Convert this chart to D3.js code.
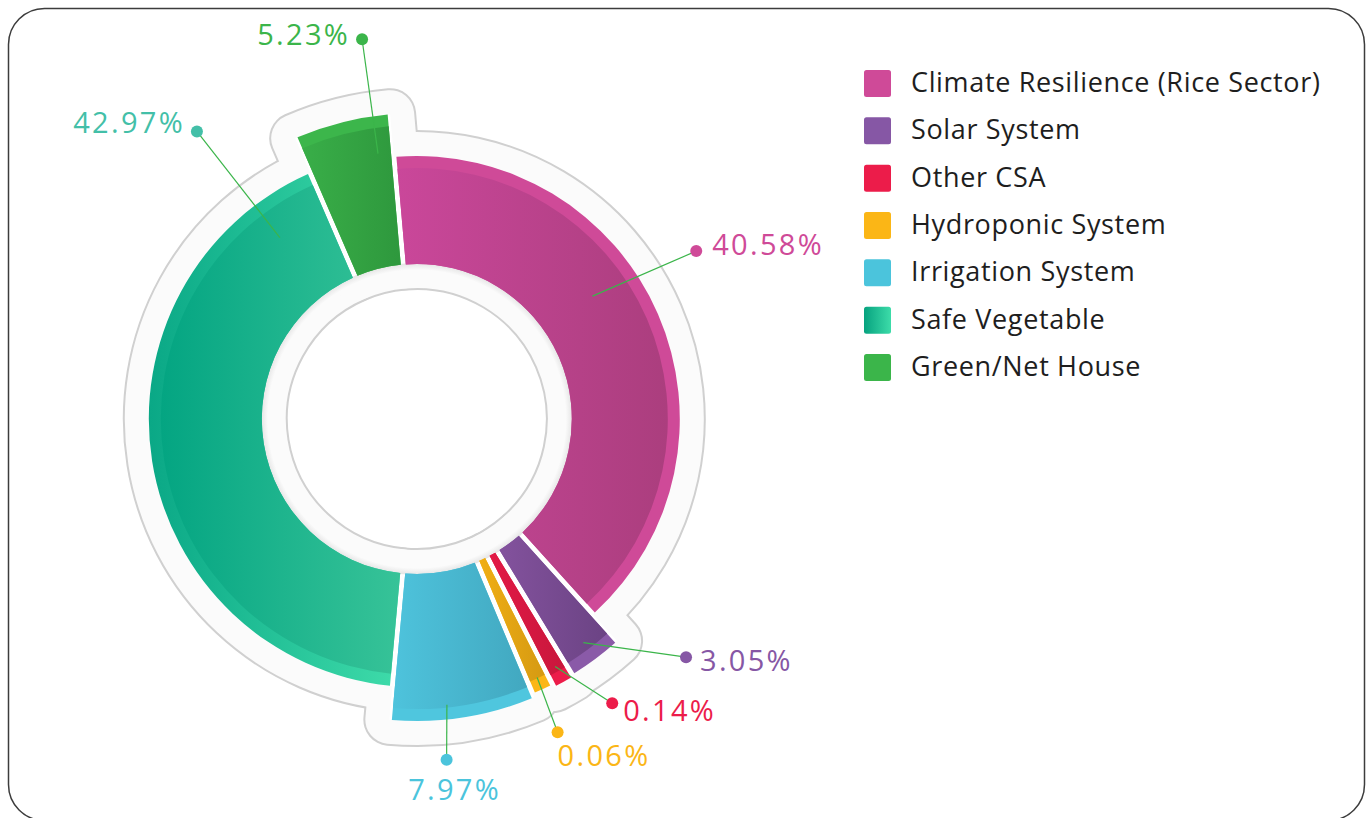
<!DOCTYPE html>
<html>
<head>
<meta charset="utf-8">
<script src="https://cdn.jsdelivr.net/npm/d3@7/dist/d3.min.js"></script>
<style>
  html, body { margin: 0; padding: 0; background: #ffffff; }
  svg { display: block; }
</style>
</head>
<body>
<svg id="chart" width="1372" height="818"></svg>
<script>
// ---- data ----
const categories = [
  "Climate Resilience (Rice Sector)",
  "Solar System",
  "Other CSA",
  "Hydroponic System",
  "Irrigation System",
  "Safe Vegetable",
  "Green/Net House"
];
const shares = [40.58, 3.05, 0.14, 0.06, 7.97, 42.97, 5.23];

// ---- style ----
const baseColors = ["#cf4a98", "#8657a5", "#ec1c4a", "#fbb616", "#4bc4dc", "#1fc095", "#3bb54a"];
const bodyFrom   = ["#ca479a", "#83529d", "#e21a46", "#f0ae14", "#4ec3dc", "#04a582", "#39ae48"];
const bodyTo     = ["#ab3e7e", "#6b4384", "#c8173c", "#d59a13", "#42a8c0", "#37c398", "#2e983d"];
const stripFrom  = ["#cf4a98", "#8a5aa8", "#ec1c4a", "#fbb616", "#4fc6de", "#0aa886", "#3cb64b"];
const stripTo    = ["#cf4a98", "#8a5aa8", "#ec1c4a", "#fbb616", "#4fc6de", "#3fdcaa", "#3cb64b"];
// outer radius of every slice (px)
const sliceRadius = [263, 299, 301, 298, 302, 268, 306];

// callout geometry: anchor inside the slice (fraction of sweep / of depth),
// dot in polar coordinates, text offset from the dot
const callouts = [
  { frac: 0.42, depth: 0.55, dotDeg: 59,    dotR: 326,   anchor: "start",  dx: 16,  dy: 4  },
  { frac: 0.50, depth: 0.86, dotDeg: 131.5, dotR: 359.5, anchor: "start",  dx: 14,  dy: 14 },
  { frac: 0.50, depth: 0.88, dotDeg: 145.5, dotR: 345,   anchor: "start",  dx: 11,  dy: 18 },
  { frac: 0.50, depth: 0.91, dotDeg: 155.8, dotR: 343.5, anchor: "start",  dx: 0,   dy: 34 },
  { frac: 0.60, depth: 0.90, dotDeg: 175,   dotR: 342,   anchor: "middle", dx: 8,   dy: 40 },
  { frac: 0.91, depth: 0.64, dotDeg: 322.6, dotR: 362,   anchor: "end",    dx: -12, dy: 2  },
  { frac: 0.82, depth: 0.75, dotDeg: 351.8, dotR: 383.7, anchor: "end",    dx: -12, dy: 6  }
];

const W = 1372, H = 818;
const cx = 416.8, cy = 419;
const innerR = 155;
const halo = 24;          // width of the pale frame around the ring
const stripW = 12;        // lighter band on the outer rim of a slice
const minShare = 1.2;     // smallest share given its own visible wedge
const rad = d => d * Math.PI / 180;

const svg = d3.select("#chart");
const defs = svg.append("defs");

// outer frame
svg.append("rect")
  .attr("x", 8.5).attr("y", 8.5)
  .attr("width", 1356).attr("height", 812)
  .attr("rx", 36).attr("ry", 36)
  .attr("fill", "#ffffff")
  .attr("stroke", "#3c3c3c")
  .attr("stroke-width", 1.5);

const items = categories.map((name, i) => ({ name, value: shares[i], index: i }));

const pie = d3.pie()
  .sort(null)
  .value(d => Math.max(d.value, minShare))
  .startAngle(rad(-5))
  .endAngle(rad(355));
const arcs = pie(items);

// gradients
arcs.forEach((a, i) => {
  const gb = defs.append("linearGradient").attr("id", "body" + i)
    .attr("x1", 0).attr("y1", 0).attr("x2", 1).attr("y2", 0);
  gb.append("stop").attr("offset", 0).attr("stop-color", bodyFrom[i]);
  gb.append("stop").attr("offset", 1).attr("stop-color", bodyTo[i]);
  const gs = defs.append("linearGradient").attr("id", "strip" + i)
    .attr("x1", 0).attr("y1", 0).attr("x2", 1).attr("y2", 0);
  gs.append("stop").attr("offset", 0).attr("stop-color", stripFrom[i]);
  gs.append("stop").attr("offset", 1).attr("stop-color", stripTo[i]);
});
const legendGrad = defs.append("linearGradient").attr("id", "legendSafe")
  .attr("x1", 0).attr("y1", 0).attr("x2", 1).attr("y2", 0);
legendGrad.append("stop").attr("offset", 0).attr("stop-color", "#06a27f");
legendGrad.append("stop").attr("offset", 1).attr("stop-color", "#3ddca9");

const shade = defs.append("radialGradient").attr("id", "innerShade")
  .attr("gradientUnits", "userSpaceOnUse")
  .attr("cx", 0).attr("cy", 0).attr("r", innerR + 1);
shade.append("stop").attr("offset", (innerR - 6) / (innerR + 1)).attr("stop-color", "#fbfbfb");
shade.append("stop").attr("offset", 1).attr("stop-color", "#e4e4e4");

const g = svg.append("g").attr("transform", `translate(${cx},${cy})`);

// pale frame: every wedge stroked wide with round joins gives the offset outline
const wedge = d3.arc()
  .innerRadius(innerR)
  .outerRadius(d => sliceRadius[d.index]);

g.append("g").selectAll("path").data(arcs).join("path")
  .attr("d", wedge)
  .attr("fill", "#d0d0d0")
  .attr("stroke", "#d0d0d0")
  .attr("stroke-width", 2 * halo + 4)
  .attr("stroke-linejoin", "round");
g.append("g").selectAll("path").data(arcs).join("path")
  .attr("d", wedge)
  .attr("fill", "#fbfbfb")
  .attr("stroke", "#fbfbfb")
  .attr("stroke-width", 2 * halo)
  .attr("stroke-linejoin", "round");

// white bed under the wedges so the gaps read as white
g.append("g").selectAll("path").data(arcs).join("path")
  .attr("d", wedge)
  .attr("fill", "#ffffff");

// soft shadow along the inner edge
g.append("path")
  .attr("d", d3.arc().innerRadius(innerR - 6).outerRadius(innerR + 1).startAngle(0).endAngle(2 * Math.PI)())
  .attr("fill", "url(#innerShade)");

// slices
const padded = d3.arc()
  .innerRadius(innerR)
  .outerRadius(d => sliceRadius[d.index])
  .padRadius(100)
  .padAngle(0.05);
const paddedBody = d3.arc()
  .innerRadius(innerR)
  .outerRadius(d => sliceRadius[d.index] - stripW)
  .padRadius(100)
  .padAngle(0.05);

const slices = g.append("g").selectAll("g").data(arcs).join("g");
slices.append("path")
  .attr("d", padded)
  .attr("fill", d => `url(#strip${d.index})`);
slices.append("path")
  .attr("d", paddedBody)
  .attr("fill", d => `url(#body${d.index})`);

// callouts
const polar = (deg, r) => [r * Math.sin(rad(deg)), -r * Math.cos(rad(deg))];
const fmt = d3.format(".2f");
const labelLayer = g.append("g");
arcs.forEach((a, i) => {
  const c = callouts[i];
  const ang = a.startAngle + c.frac * (a.endAngle - a.startAngle);
  const r = innerR + c.depth * (sliceRadius[i] - innerR);
  const p0 = [r * Math.sin(ang), -r * Math.cos(ang)];
  const p1 = polar(c.dotDeg, c.dotR);
  labelLayer.append("line")
    .attr("x1", p0[0]).attr("y1", p0[1])
    .attr("x2", p1[0]).attr("y2", p1[1])
    .attr("stroke", "#3bb54a")
    .attr("stroke-width", 1.2);
  labelLayer.append("circle")
    .attr("cx", p1[0]).attr("cy", p1[1]).attr("r", 6)
    .attr("fill", i === 5 ? "#43bfa8" : baseColors[i]);
  labelLayer.append("text")
    .attr("x", p1[0] + c.dx).attr("y", p1[1] + c.dy)
    .attr("text-anchor", c.anchor)
    .attr("font-family", "'Open Sans', 'Noto Sans', sans-serif")
    .attr("font-size", 29)
    .attr("letter-spacing", 2.3)
    .attr("fill", i === 5 ? "#43bfa8" : baseColors[i])
    .text(fmt(a.data.value) + "%");
});

// legend
const legend = svg.append("g").attr("transform", "translate(864,70)");
const rows = legend.selectAll("g").data(categories).join("g")
  .attr("transform", (d, i) => `translate(0,${i * 47.33})`);
rows.append("rect")
  .attr("width", 27).attr("height", 27).attr("rx", 2.5)
  .attr("fill", (d, i) => i === 5 ? "url(#legendSafe)" : baseColors[i]);
rows.append("text")
  .attr("x", 47).attr("y", 22)
  .attr("font-family", "'Open Sans', 'Noto Sans', sans-serif")
  .attr("font-size", 27)
  .attr("letter-spacing", 0.65)
  .attr("fill", "#1e1e1e")
  .text(d => d);
</script>
</body>
</html>
